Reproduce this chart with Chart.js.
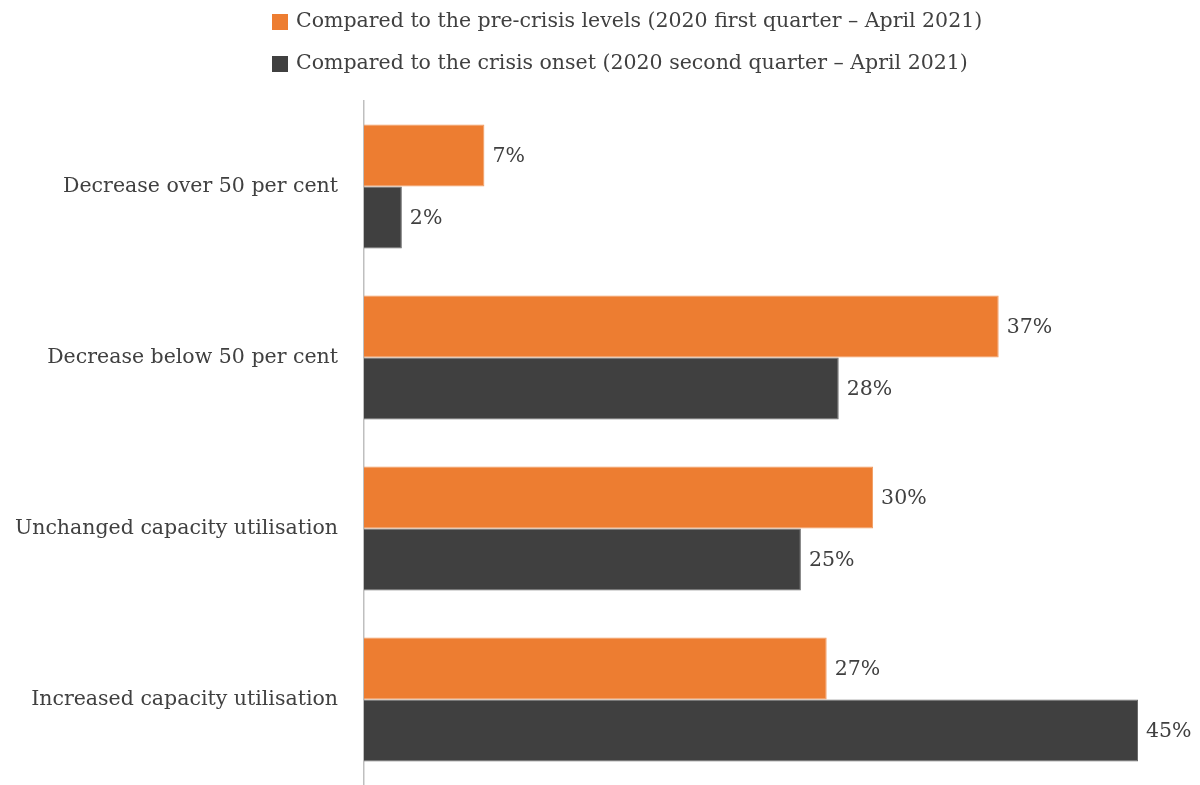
<!DOCTYPE html>
<html>
<head>
<meta charset="utf-8">
<script src="https://cdn.jsdelivr.net/npm/chart.js@4.4.1/dist/chart.umd.min.js"></script>
<style>
  html, body { margin: 0; padding: 0; background: #ffffff; overflow: hidden; }
  #wrap { position: relative; width: 1200px; height: 785px; }
</style>
</head>
<body>
<div id="wrap"><canvas id="c"></canvas></div>
<script>
const categories = [
  "Decrease over 50 per cent",
  "Decrease below 50 per cent",
  "Unchanged capacity utilisation",
  "Increased capacity utilisation"
];
const seriesNames = [
  "Compared to the pre-crisis levels (2020 first quarter \u2013 April 2021)",
  "Compared to the crisis onset (2020 second quarter \u2013 April 2021)"
];
const preCrisis = [7.0, 36.9, 29.6, 26.9];
const crisisOnset = [2.2, 27.6, 25.4, 45.0];

const FONT = "'DejaVu Serif', serif";
const FONT_SIZE = 20.5;
const TEXT = "#404040";

const valueLabels = {
  id: "valueLabels",
  afterDatasetsDraw(chart) {
    const ctx = chart.ctx;
    ctx.save();
    ctx.font = FONT_SIZE + "px " + FONT;
    ctx.fillStyle = TEXT;
    ctx.textAlign = "left";
    ctx.textBaseline = "middle";
    chart.data.datasets.forEach((ds, di) => {
      const meta = chart.getDatasetMeta(di);
      meta.data.forEach((bar, i) => {
        ctx.fillText(Math.round(ds.data[i]) + "%", bar.x + 8, bar.y + 1);
      });
    });
    ctx.restore();
  }
};

const customLegend = {
  id: "customLegend",
  afterDraw(chart) {
    const ctx = chart.ctx;
    ctx.save();
    ctx.font = FONT_SIZE + "px " + FONT;
    ctx.textAlign = "left";
    ctx.textBaseline = "middle";
    const rows = [22, 64];
    chart.data.datasets.forEach((ds, di) => {
      const y = rows[di];
      ctx.fillStyle = ds.backgroundColor;
      ctx.fillRect(272, y - 8, 16, 16);
      ctx.fillStyle = TEXT;
      ctx.fillText(ds.label, 296, y);
    });
    ctx.restore();
  }
};

new Chart(document.getElementById("c"), {
  type: "bar",
  data: {
    labels: categories,
    datasets: [
      {
        label: seriesNames[0],
        data: preCrisis,
        backgroundColor: "#ED7D31",
        borderColor: "#F19A5E",
        borderWidth: 1
      },
      {
        label: seriesNames[1],
        data: crisisOnset,
        backgroundColor: "#404040",
        borderColor: "#6A6A6A",
        borderWidth: 1
      }
    ]
  },
  options: {
    indexAxis: "y",
    responsive: true,
    maintainAspectRatio: false,
    devicePixelRatio: 1,
    animation: false,
    layout: { padding: { top: 101, right: 62, bottom: -3, left: 0 } },
    datasets: { bar: { categoryPercentage: 0.725, barPercentage: 1.0 } },
    plugins: {
      legend: { display: false },
      tooltip: { enabled: false }
    },
    scales: {
      x: {
        display: false,
        min: 0,
        max: 45
      },
      y: {
        grid: { display: false, drawTicks: false },
        border: { display: true, color: "#BFBFBF", width: 1.5 },
        ticks: {
          font: { family: FONT, size: FONT_SIZE },
          color: TEXT,
          padding: 26
        },
        afterFit(scale) {
          scale.width = 364;
          scale.paddingTop = 0;
          scale.paddingBottom = 0;
        }
      }
    }
  },
  plugins: [valueLabels, customLegend]
});
</script>
</body>
</html>
